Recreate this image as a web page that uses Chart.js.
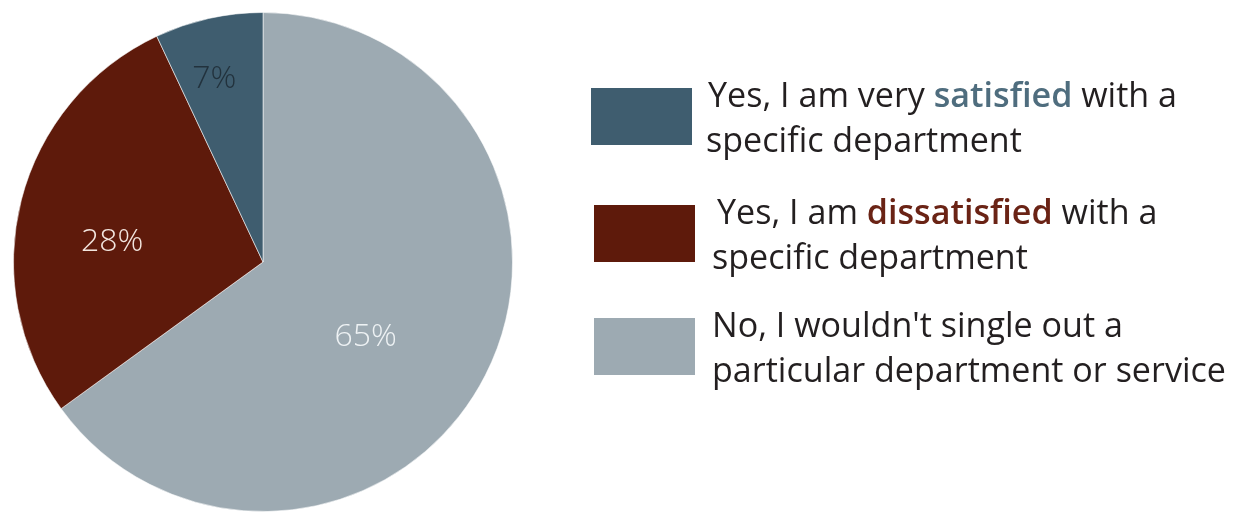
<!DOCTYPE html>
<html>
<head>
<meta charset="utf-8">
<script src="https://cdn.jsdelivr.net/npm/chart.js@4/dist/chart.umd.min.js"></script>
<style>
  html, body { margin: 0; padding: 0; background: #fff; }
  #wrap { width: 1240px; height: 514px; overflow: hidden; }
</style>
</head>
<body>
<div id="wrap"><canvas id="myChart" width="1240" height="514"></canvas></div>
<script>
// chart data
var sliceLabels = ['No, I wouldn\'t single out a particular department or service',
                   'Yes, I am dissatisfied with a specific department',
                   'Yes, I am very satisfied with a specific department'];
var sliceValues = [65, 28, 7];
var sliceColors = ['#9daab2', '#5e1a0b', '#3f5d6f'];
var pctColors = ['#eef2f4', '#f3e6df', '#22323d'];

// legend text, top to bottom (first line, second line, highlighted word)
var legendLine1 = ['Yes, I am very satisfied with a', 'Yes, I am dissatisfied with a', 'No, I wouldn\'t single out a'];
var legendLine2 = ['specific department', 'specific department', 'particular department or service'];
var legendBold = ['satisfied', 'dissatisfied', null];
var legendBoldColors = ['#4f6d7e', '#6a2315', null];
var legendBoxColors = ['#3f5d6f', '#5e1a0b', '#9daab2'];

var FONT = '"Open Sans", "Noto Sans", sans-serif';

// percent labels drawn inside each slice
var pctPlugin = {
    id: 'pctLabels',
    afterDatasetsDraw: function (chart) {
        var ctx = chart.ctx;
        var meta = chart.getDatasetMeta(0);
        var radFrac = [0.51, 0.61, 0.76];
        var angShift = [0.16, -0.12, -0.04];
        ctx.save();
        ctx.font = '300 32px ' + FONT;
        ctx.textAlign = 'center';
        ctx.textBaseline = 'middle';
        meta.data.forEach(function (arc, i) {
            var p = arc.getProps(['x', 'y', 'startAngle', 'endAngle', 'outerRadius'], true);
            var a = (p.startAngle + p.endAngle) / 2 + angShift[i];
            var r = p.outerRadius * radFrac[i];
            ctx.fillStyle = pctColors[i];
            ctx.fillText(sliceValues[i] + '%', p.x + Math.cos(a) * r, p.y + Math.sin(a) * r);
        });
        ctx.restore();
    }
};

// legend on the right, drawn on the canvas
var legendPlugin = {
    id: 'sideLegend',
    afterDraw: function (chart) {
        var ctx = chart.ctx;
        var boxX = [591, 594, 594];
        var boxY = [88, 205, 318];
        var textX = [708, 717, 712];
        var text2X = [706, 712, 712];
        ctx.save();
        ctx.font = '34px ' + FONT;
        var sx = 514 / ctx.measureText(legendLine2[2]).width;
        for (var i = 0; i < legendLine1.length; i++) {
            ctx.fillStyle = legendBoxColors[i];
            ctx.fillRect(boxX[i], boxY[i], 101, 57);
            drawLine(ctx, legendLine1[i], legendBold[i], legendBoldColors[i], textX[i], boxY[i] + 19, sx);
            drawLine(ctx, legendLine2[i], null, null, text2X[i], boxY[i] + 64, sx);
        }
        ctx.restore();
    }
};

function drawLine(ctx, text, bold, boldColor, x, y, sx) {
    var parts = bold ? text.split(bold) : [text];
    ctx.save();
    ctx.translate(x, y);
    ctx.scale(sx, 1);
    ctx.textBaseline = 'alphabetic';
    var cx = 0;
    for (var k = 0; k < parts.length; k++) {
        ctx.font = '34px ' + FONT;
        ctx.fillStyle = '#231f20';
        ctx.fillText(parts[k], cx, 0);
        cx += ctx.measureText(parts[k]).width;
        if (bold && k < parts.length - 1) {
            ctx.font = '600 34px ' + FONT;
            ctx.fillStyle = boldColor;
            ctx.fillText(bold, cx, 0);
            cx += ctx.measureText(bold).width;
        }
    }
    ctx.restore();
}

var ctx = document.getElementById('myChart').getContext('2d');
var myChart = new Chart(ctx, {
    type: 'pie',
    data: {
        labels: sliceLabels,
        datasets: [{
            data: sliceValues,
            backgroundColor: sliceColors,
            borderColor: 'rgba(255,255,255,0.55)',
            borderWidth: 1
        }]
    },
    options: {
        responsive: false,
        animation: false,
        layout: { padding: { left: 13, right: 727, top: 12, bottom: 2 } },
        plugins: {
            legend: { display: false },
            tooltip: { enabled: false },
            title: { display: false }
        }
    },
    plugins: [pctPlugin, legendPlugin]
});
</script>
</body>
</html>
